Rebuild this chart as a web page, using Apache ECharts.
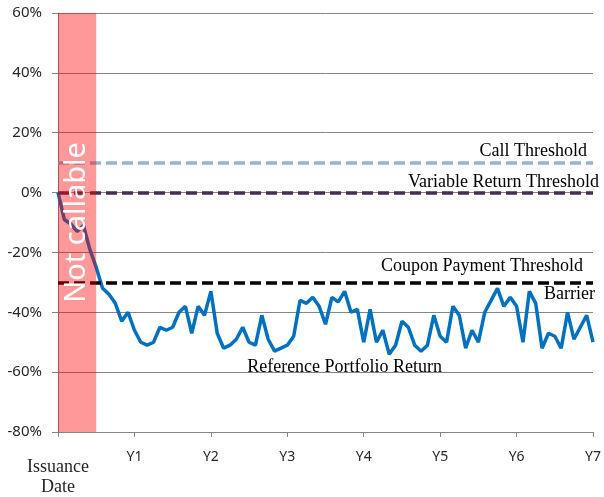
<!DOCTYPE html>
<html>
<head>
<meta charset="utf-8">
<script src="https://cdn.jsdelivr.net/npm/echarts@6/dist/echarts.min.js"></script>
<style>html,body{margin:0;padding:0;background:#fff}#c{width:604px;height:497px}</style>
</head>
<body>
<div id="c"></div>
<script>
// Months since issuance (0..84) and reference portfolio return (%)
const months = Array.from({length: 85}, (_, i) => i);
const portfolioReturn = [
  0, -9, -10.5, -13, -11, -19, -25, -32, -34, -37, -43, -40,
  -46, -50, -51, -50, -45, -46, -45, -40, -38, -47, -38, -41,
  -33, -47, -52, -51, -49, -45, -50, -51, -41, -49, -53, -52,
  -51, -48, -36, -37, -35, -38, -44, -35, -36.5, -33, -40, -39,
  -50, -39, -50, -46, -54, -51, -43, -45, -51, -53, -51, -41,
  -48, -50, -38, -41, -52, -46, -50, -40, -36, -32, -38, -35,
  -38, -50, -33, -37, -52, -47, -48, -52, -40, -49, -45, -41, -50
];
const yTicks = { min: -80, max: 60, interval: 20 };
const xTicks = { min: 0, max: 84, interval: 12 };
const callThreshold = 10;
const variableReturnThreshold = 0;
const couponThreshold = -30;
const barrier = -30;
const notCallableEnd = 6; // months
const seriesLabelAt = [45, -58.3];
const serif = '"Liberation Serif","Times New Roman",serif';
const sans = '"Noto Sans","Open Sans",sans-serif';

const chart = echarts.init(document.getElementById('c'), null, {renderer: 'canvas'});
chart.setOption({
  animation: false,
  grid: { left: 58, right: 6, top: 13, bottom: 65 },
  xAxis: {
    type: 'value', min: xTicks.min, max: xTicks.max, interval: xTicks.interval,
    axisLine: { show: true, onZero: false, lineStyle: { color: '#868686', width: 1 } },
    axisTick: { show: true, length: 5, lineStyle: { color: '#868686' } },
    splitLine: { show: false },
    axisLabel: {
      margin: 18, color: '#262626', fontFamily: sans, fontSize: 14,
      formatter: v => v === 0 ? '{a|Issuance}\n{a|Date}' : 'Y' + (v / 12),
      rich: { a: { fontFamily: serif, fontSize: 18, color: '#262626', lineHeight: 20, padding: [14, 0, 0, 0] } }
    }
  },
  yAxis: {
    type: 'value', min: yTicks.min, max: yTicks.max, interval: yTicks.interval,
    axisLine: { show: true, lineStyle: { color: '#868686', width: 1 } },
    axisTick: { show: true, length: 6, lineStyle: { color: '#868686' } },
    splitLine: { show: true, lineStyle: { color: '#868686', width: 1 } },
    axisLabel: { margin: 16, color: '#262626', fontFamily: sans, fontSize: 15, formatter: '{value}%' }
  },
  series: [
    {
      type: 'line', name: 'Reference Portfolio Return', z: 3,
      data: months.map((m, i) => [m, portfolioReturn[i]]),
      showSymbol: false, symbol: 'none',
      lineStyle: { color: '#0070C0', width: 3.5 },
      markLine: {
        silent: true, symbol: 'none', z: 4,
        data: [
          { yAxis: callThreshold, lineStyle: { color: '#95B3D7', width: 3.5, type: [11, 5] },
            label: { formatter: 'Call Threshold', position: 'insideEndTop', distance: [6, 2] } },
          { yAxis: variableReturnThreshold, lineStyle: { color: '#403152', width: 3.5, type: [11, 5] },
            label: { formatter: 'Variable Return Threshold', position: 'insideEndTop', distance: [-6, 1] } },
          { yAxis: couponThreshold, lineStyle: { color: '#000000', width: 3.5, type: [11, 5] },
            label: { formatter: 'Coupon Payment Threshold', position: 'insideEndTop', distance: [10, 7] } },
          { yAxis: barrier, lineStyle: { color: 'rgba(0,0,0,0)', width: 0.1, type: 'solid' },
            label: { formatter: 'Barrier', position: 'insideEndBottom', distance: [-2, 3] } }
        ],
        label: { show: true, color: '#000', fontFamily: serif, fontSize: 18 }
      },
      markPoint: {
        silent: true, symbol: 'rect', symbolSize: 1,
        itemStyle: { color: 'rgba(0,0,0,0)' },
        data: [{ coord: seriesLabelAt, value: seriesLabelAt[1] }],
        label: { show: true, position: 'inside', formatter: 'Reference Portfolio Return', color: '#000', fontFamily: serif, fontSize: 18 }
      },
      markArea: {
        silent: true, z: 20,
        itemStyle: { color: 'rgba(255,0,0,0.4)' },
        label: { show: true, position: 'inside', rotate: 90, formatter: 'Not callable', color: '#fff', fontFamily: sans, fontSize: 29 },
        data: [[{ xAxis: 0, yAxis: yTicks.max }, { xAxis: notCallableEnd, yAxis: yTicks.min }]]
      }
    }
  ]
});
</script>
</body>
</html>
